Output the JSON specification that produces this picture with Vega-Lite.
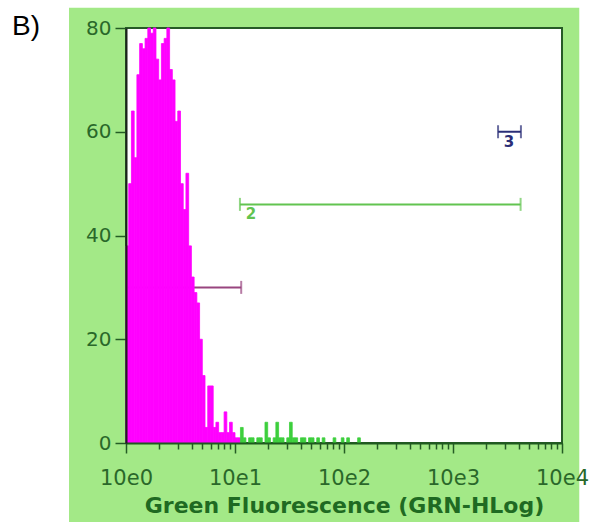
{
  "$schema": "https://vega.github.io/schema/vega-lite/v6.json",
  "width": 436,
  "height": 415,
  "autosize": {"type": "none"},
  "padding": {"left": 126, "top": 28, "right": 31, "bottom": 79},
  "background": "#a3e987",
  "config": {"view": {"fill": "#ffffff", "stroke": "#275a27", "strokeWidth": 2}},
  "data": {"values": [{}]},
  "datasets": {
    "hist": [
      {"lo": 1, "hi": 1.059, "count": 38, "gate": "M1"},
      {"lo": 1.059, "hi": 1.122, "count": 50, "gate": "M1"},
      {"lo": 1.122, "hi": 1.189, "count": 64, "gate": "M1"},
      {"lo": 1.189, "hi": 1.259, "count": 55, "gate": "M1"},
      {"lo": 1.259, "hi": 1.334, "count": 71, "gate": "M1"},
      {"lo": 1.334, "hi": 1.413, "count": 77, "gate": "M1"},
      {"lo": 1.413, "hi": 1.496, "count": 76, "gate": "M1"},
      {"lo": 1.496, "hi": 1.585, "count": 78, "gate": "M1"},
      {"lo": 1.585, "hi": 1.679, "count": 80, "gate": "M1"},
      {"lo": 1.679, "hi": 1.778, "count": 79, "gate": "M1"},
      {"lo": 1.778, "hi": 1.884, "count": 80, "gate": "M1"},
      {"lo": 1.884, "hi": 1.995, "count": 74, "gate": "M1"},
      {"lo": 1.995, "hi": 2.113, "count": 70, "gate": "M1"},
      {"lo": 2.113, "hi": 2.239, "count": 77, "gate": "M1"},
      {"lo": 2.239, "hi": 2.371, "count": 78, "gate": "M1"},
      {"lo": 2.371, "hi": 2.512, "count": 80, "gate": "M1"},
      {"lo": 2.512, "hi": 2.661, "count": 72, "gate": "M1"},
      {"lo": 2.661, "hi": 2.818, "count": 70, "gate": "M1"},
      {"lo": 2.818, "hi": 2.985, "count": 62, "gate": "M1"},
      {"lo": 2.985, "hi": 3.162, "count": 64, "gate": "M1"},
      {"lo": 3.162, "hi": 3.35, "count": 50, "gate": "M1"},
      {"lo": 3.35, "hi": 3.548, "count": 45, "gate": "M1"},
      {"lo": 3.548, "hi": 3.758, "count": 52, "gate": "M1"},
      {"lo": 3.758, "hi": 3.981, "count": 38, "gate": "M1"},
      {"lo": 3.981, "hi": 4.217, "count": 32, "gate": "M1"},
      {"lo": 4.217, "hi": 4.467, "count": 29, "gate": "M1"},
      {"lo": 4.467, "hi": 4.732, "count": 27, "gate": "M1"},
      {"lo": 4.732, "hi": 5.012, "count": 20, "gate": "M1"},
      {"lo": 5.012, "hi": 5.309, "count": 13, "gate": "M1"},
      {"lo": 5.309, "hi": 5.623, "count": 3, "gate": "M1"},
      {"lo": 5.623, "hi": 5.957, "count": 11, "gate": "M1"},
      {"lo": 5.957, "hi": 6.31, "count": 11, "gate": "M1"},
      {"lo": 6.31, "hi": 6.683, "count": 3, "gate": "M1"},
      {"lo": 6.683, "hi": 7.079, "count": 4, "gate": "M1"},
      {"lo": 7.079, "hi": 7.499, "count": 2, "gate": "M1"},
      {"lo": 7.499, "hi": 7.943, "count": 2, "gate": "M1"},
      {"lo": 7.943, "hi": 8.414, "count": 6, "gate": "M1"},
      {"lo": 8.414, "hi": 8.913, "count": 2, "gate": "M1"},
      {"lo": 8.913, "hi": 9.441, "count": 4, "gate": "M1"},
      {"lo": 9.441, "hi": 10, "count": 2, "gate": "M1"},
      {"lo": 10, "hi": 10.59, "count": 1, "gate": "M1"},
      {"lo": 10.59, "hi": 11.22, "count": 1, "gate": "M1"},
      {"lo": 11.22, "hi": 11.89, "count": 3, "gate": "M2"},
      {"lo": 11.89, "hi": 12.59, "count": 1, "gate": "M2"},
      {"lo": 13.34, "hi": 14.13, "count": 1, "gate": "M2"},
      {"lo": 14.13, "hi": 14.96, "count": 1, "gate": "M2"},
      {"lo": 15.85, "hi": 16.79, "count": 1, "gate": "M2"},
      {"lo": 16.79, "hi": 17.78, "count": 1, "gate": "M2"},
      {"lo": 18.84, "hi": 19.95, "count": 4, "gate": "M2"},
      {"lo": 19.95, "hi": 21.14, "count": 1, "gate": "M2"},
      {"lo": 22.39, "hi": 23.71, "count": 1, "gate": "M2"},
      {"lo": 23.71, "hi": 25.12, "count": 4, "gate": "M2"},
      {"lo": 25.12, "hi": 26.61, "count": 1, "gate": "M2"},
      {"lo": 26.61, "hi": 28.18, "count": 1, "gate": "M2"},
      {"lo": 29.85, "hi": 31.62, "count": 1, "gate": "M2"},
      {"lo": 31.62, "hi": 33.5, "count": 4, "gate": "M2"},
      {"lo": 33.5, "hi": 35.48, "count": 1, "gate": "M2"},
      {"lo": 35.48, "hi": 37.58, "count": 1, "gate": "M2"},
      {"lo": 39.81, "hi": 42.17, "count": 1, "gate": "M2"},
      {"lo": 42.17, "hi": 44.67, "count": 1, "gate": "M2"},
      {"lo": 47.32, "hi": 50.12, "count": 1, "gate": "M2"},
      {"lo": 50.12, "hi": 53.09, "count": 1, "gate": "M2"},
      {"lo": 56.23, "hi": 59.57, "count": 1, "gate": "M2"},
      {"lo": 63.1, "hi": 66.83, "count": 1, "gate": "M2"},
      {"lo": 79.43, "hi": 84.14, "count": 1, "gate": "M2"},
      {"lo": 94.41, "hi": 100, "count": 1, "gate": "M2"},
      {"lo": 105.9, "hi": 112.2, "count": 1, "gate": "M2"},
      {"lo": 133.4, "hi": 141.3, "count": 1, "gate": "M2"}
    ],
    "markers": [
      {"marker": "1", "lo": 1, "hi": 11.4, "level": 30},
      {"marker": "2", "lo": 11.1, "hi": 4170, "level": 46},
      {"marker": "3", "lo": 2590, "hi": 4200, "level": 60}
    ]
  },
  "layer": [
    {
      "data": {"name": "markers"},
      "transform": [{"filter": "datum.marker == '1'"}],
      "mark": {"type": "rule", "strokeWidth": 2, "color": "#98457f"},
      "encoding": {
        "x": {"field": "lo", "type": "quantitative"},
        "x2": {"field": "hi"},
        "y": {"field": "level", "type": "quantitative"}
      }
    },
    {
      "data": {"name": "hist"},
      "mark": {"type": "rect", "strokeWidth": 0.8},
      "encoding": {
        "x": {
          "field": "lo",
          "type": "quantitative",
          "scale": {"type": "log", "domain": [1, 10000], "nice": false},
          "axis": {
            "zindex": 1,
            "orient": "bottom",
            "values": [1, 2, 3, 4, 5, 6, 7, 8, 9, 10, 20, 30, 40, 50, 60, 70, 80, 90, 100, 200, 300, 400, 500, 600, 700, 800, 900, 1000, 2000, 3000, 4000, 5000, 6000, 7000, 8000, 9000, 10000],
            "labelExpr": "abs(log(datum.value)/LN10 - round(log(datum.value)/LN10)) < 0.001 ? '10e' + round(log(datum.value)/LN10) : ''",
            "tickSize": {"condition": {"test": "abs(log(datum.value)/LN10 - round(log(datum.value)/LN10)) < 0.001", "value": 10}, "value": 6},
            "tickColor": "#245c24",
            "tickWidth": 1.5,
            "domainColor": "#1f5a1f",
            "domainWidth": 2,
            "labelFont": "DejaVu Sans",
            "labelFontSize": 21,
            "labelColor": "#2a682a",
            "labelPadding": 14,
            "labelOverlap": false,
            "labelFlush": false,
            "grid": false,
            "title": "Green Fluorescence (GRN-HLog)",
            "titleFont": "DejaVu Sans",
            "titleFontSize": 22,
            "titleFontWeight": "bold",
            "titleColor": "#1f6a22",
            "titlePadding": 7
          }
        },
        "x2": {"field": "hi"},
        "y": {
          "field": "count",
          "type": "quantitative",
          "scale": {"domain": [0, 80], "nice": false},
          "axis": {
            "zindex": 1,
            "values": [0, 20, 40, 60, 80],
            "tickSize": 11,
            "tickWidth": 1.5,
            "tickColor": "#245c24",
            "domainColor": "#1c231c",
            "domainWidth": 2,
            "labelFont": "DejaVu Sans",
            "labelFontSize": 20,
            "labelColor": "#2a682a",
            "labelPadding": 4,
            "grid": false,
            "title": null
          }
        },
        "y2": {"datum": 0},
        "color": {"condition": {"test": "datum.gate == 'M2'", "value": "#3dcf3d"}, "value": "#ff00ff"},
        "stroke": {"condition": {"test": "datum.gate == 'M2'", "value": "#3dcf3d"}, "value": "#ff00ff"}
      }
    },
    {
      "description": "white margin around the green panel",
      "mark": {"type": "rect", "color": "#ffffff"},
      "encoding": {
        "x": {"datum": 0.001, "type": "quantitative"},
        "x2": {"datum": 0.3},
        "y": {"datum": 100, "type": "quantitative"},
        "y2": {"datum": -30}
      }
    },
    {
      "mark": {"type": "rect", "color": "#ffffff"},
      "encoding": {
        "x": {"datum": 0.001, "type": "quantitative"},
        "x2": {"datum": 100000},
        "y": {"datum": 100, "type": "quantitative"},
        "y2": {"datum": 83.9}
      }
    },
    {
      "mark": {"type": "rect", "color": "#ffffff"},
      "encoding": {
        "x": {"datum": 14400, "type": "quantitative"},
        "x2": {"datum": 100000},
        "y": {"datum": 100, "type": "quantitative"},
        "y2": {"datum": -30}
      }
    },
    {
      "data": {"name": "markers"},
      "transform": [{"filter": "datum.marker != '1'"}],
      "mark": {"type": "rule", "strokeWidth": 2},
      "encoding": {
        "x": {"field": "lo", "type": "quantitative"},
        "x2": {"field": "hi"},
        "y": {"field": "level", "type": "quantitative"},
        "color": {"field": "marker", "type": "nominal", "scale": {"domain": ["1", "2", "3"], "range": ["#98457f", "#62c450", "#2b2f78"]}, "legend": null}
      }
    },
    {
      "data": {"name": "markers"},
      "mark": {"type": "tick", "orient": "vertical", "size": 13, "thickness": 2},
      "encoding": {
        "x": {"field": "hi", "type": "quantitative"},
        "y": {"field": "level", "type": "quantitative"},
        "color": {"field": "marker", "type": "nominal", "legend": null}
      }
    },
    {
      "data": {"name": "markers"},
      "transform": [{"filter": "datum.marker != '1'"}],
      "mark": {"type": "tick", "orient": "vertical", "size": 13, "thickness": 2},
      "encoding": {
        "x": {"field": "lo", "type": "quantitative"},
        "y": {"field": "level", "type": "quantitative"},
        "color": {"field": "marker", "type": "nominal", "legend": null}
      }
    },
    {
      "data": {"name": "markers"},
      "transform": [{"filter": "datum.marker != '1'"}],
      "mark": {"type": "text", "dx": 11, "dy": 10, "align": "center", "baseline": "middle", "font": "DejaVu Sans", "fontSize": 15, "fontWeight": "bold"},
      "encoding": {
        "x": {"field": "lo", "type": "quantitative"},
        "y": {"field": "level", "type": "quantitative"},
        "text": {"field": "marker"},
        "color": {"field": "marker", "type": "nominal", "legend": null}
      }
    },
    {
      "mark": {"type": "text", "text": "B)", "align": "left", "baseline": "alphabetic", "font": "Liberation Sans", "fontSize": 28, "color": "#000000"},
      "encoding": {
        "x": {"datum": 0.09, "type": "quantitative"},
        "y": {"datum": 78.65, "type": "quantitative"}
      }
    }
  ]
}
